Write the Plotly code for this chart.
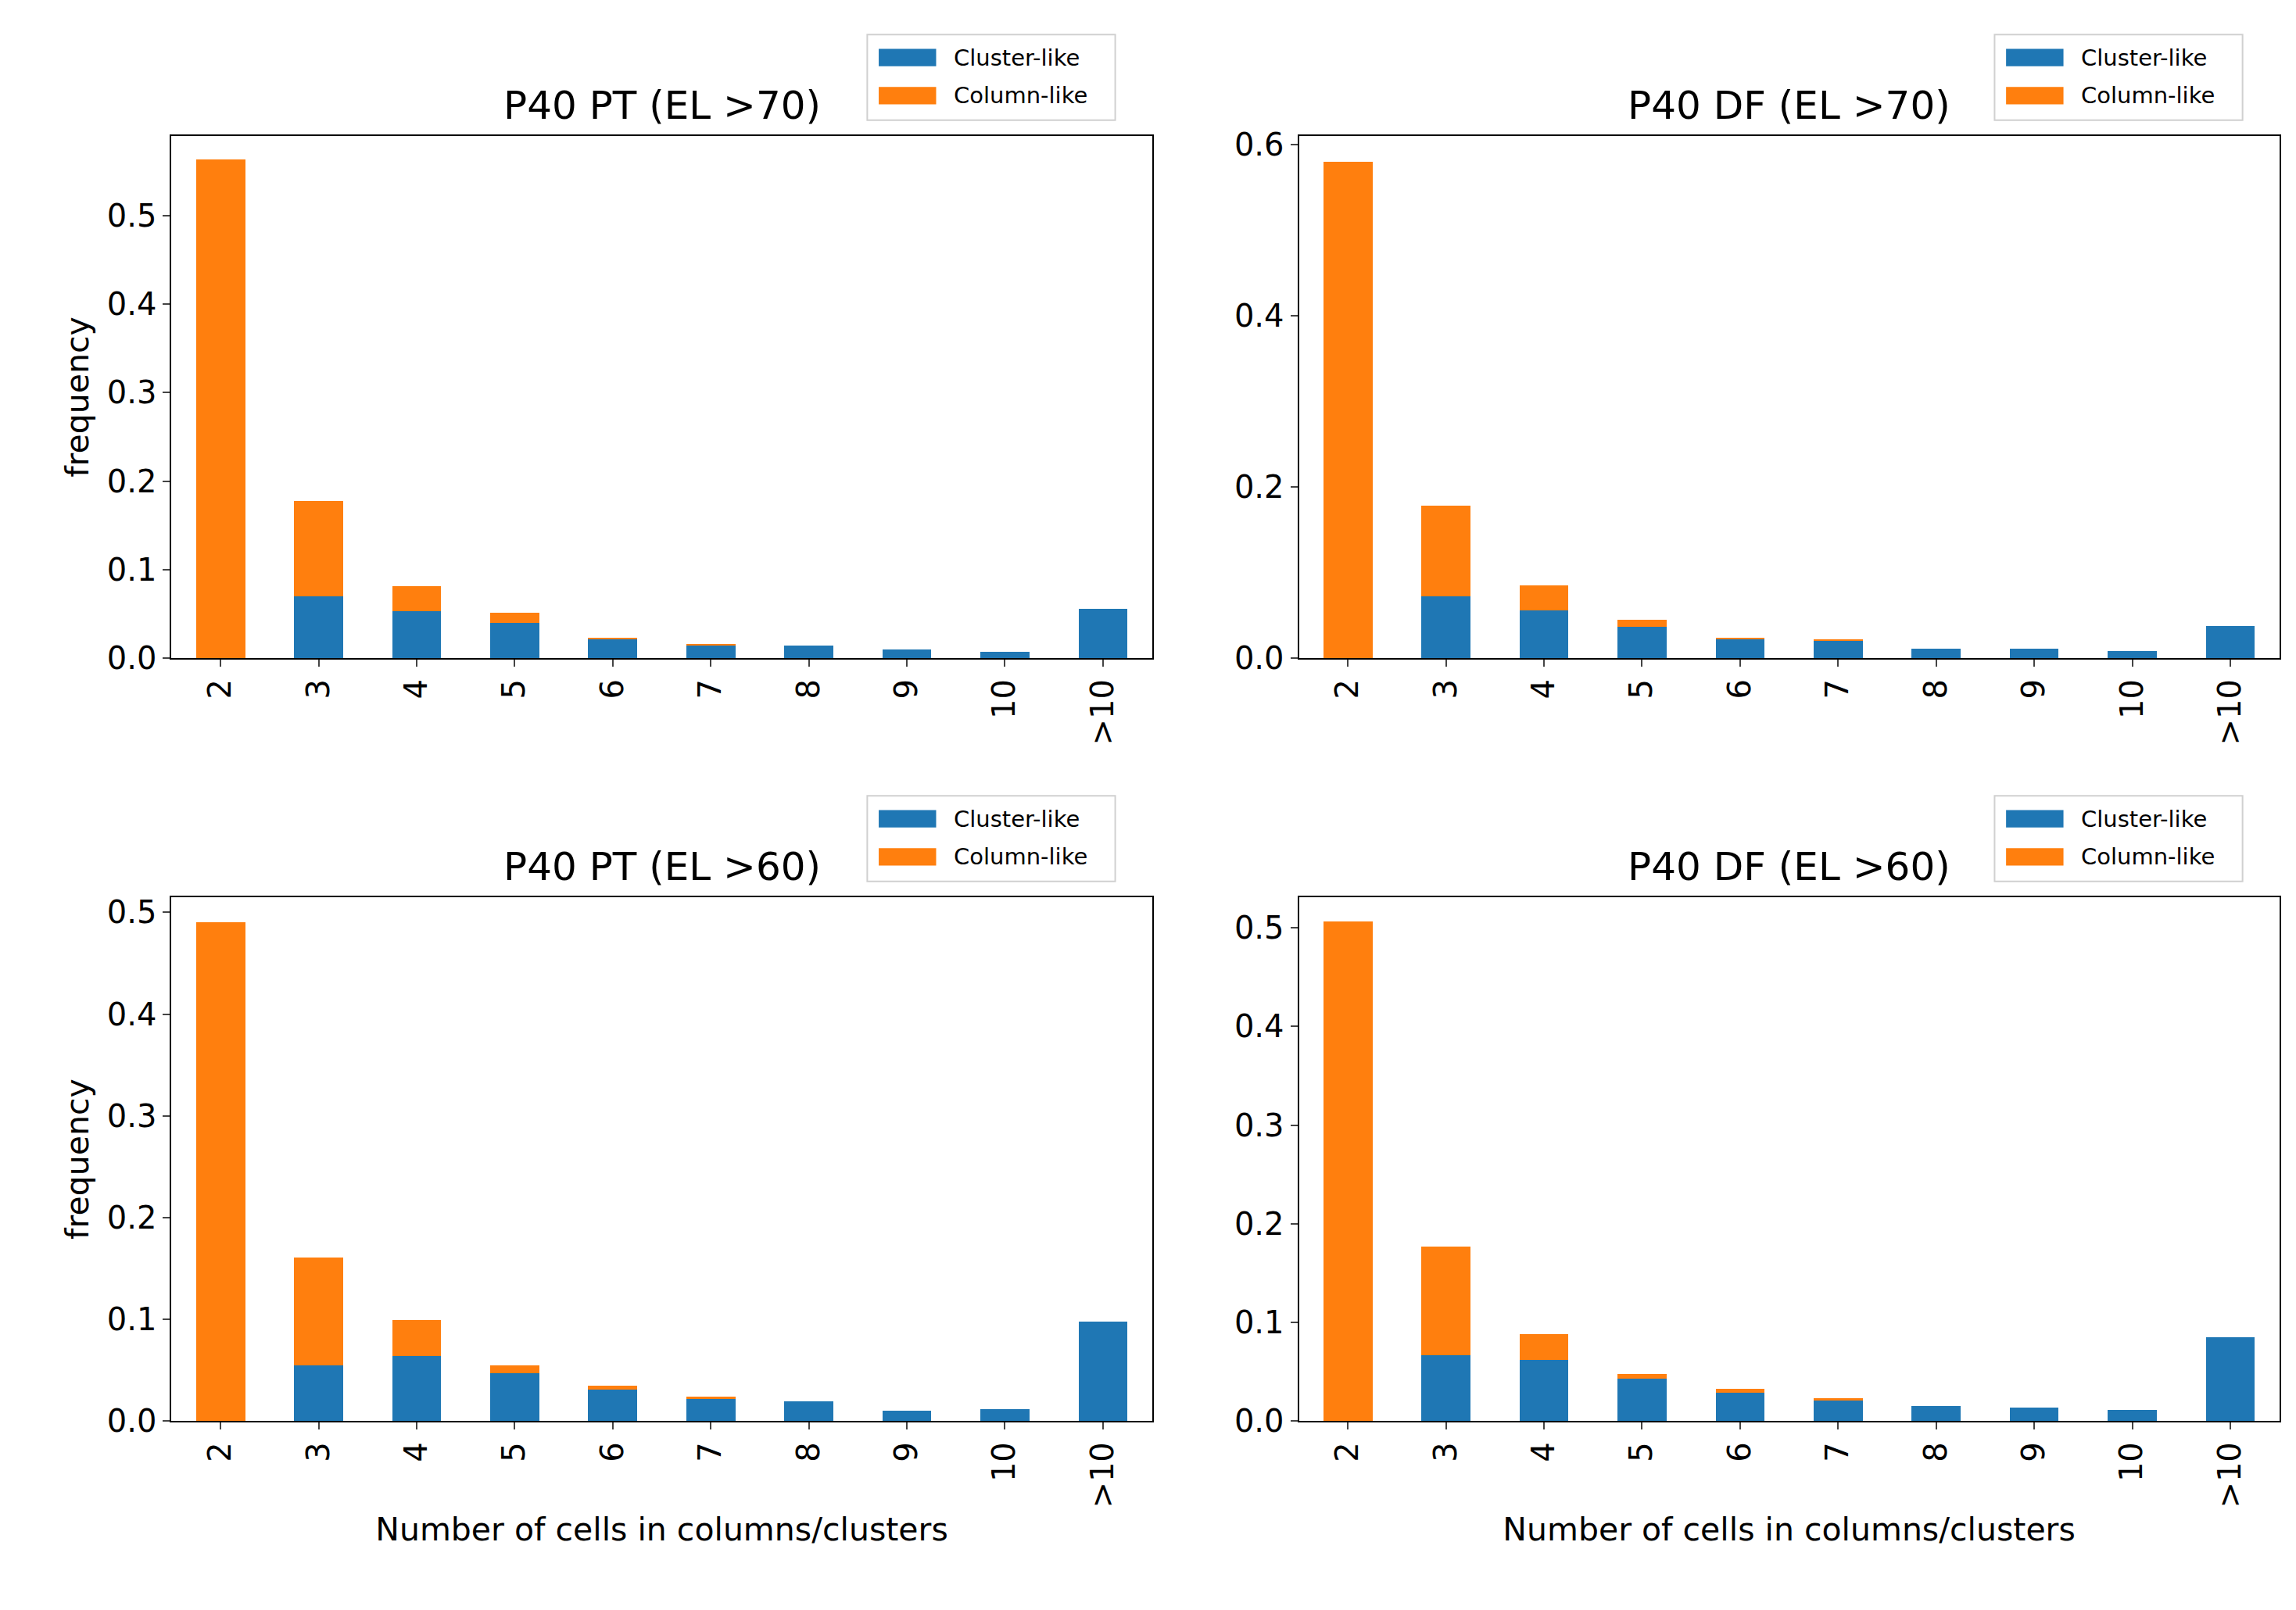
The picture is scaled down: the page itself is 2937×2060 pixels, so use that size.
import plotly.graph_objects as go

categories = ['2', '3', '4', '5', '6', '7', '8', '9', '10', '>10']
titles = ['P40 PT (EL >70)', 'P40 DF (EL >70)', 'P40 PT (EL >60)', 'P40 DF (EL >60)']

# cluster-like part and total height of each stacked bar
pt70_cluster = [0.0, 0.070, 0.053, 0.040, 0.022, 0.014, 0.014, 0.010, 0.007, 0.056]
pt70_total = [0.563, 0.178, 0.081, 0.051, 0.023, 0.016, 0.014, 0.010, 0.007, 0.056]
df70_cluster = [0.0, 0.072, 0.056, 0.037, 0.022, 0.021, 0.011, 0.011, 0.008, 0.038]
df70_total = [0.580, 0.178, 0.085, 0.045, 0.024, 0.022, 0.011, 0.011, 0.008, 0.038]
pt60_cluster = [0.0, 0.055, 0.064, 0.047, 0.031, 0.022, 0.019, 0.010, 0.012, 0.098]
pt60_total = [0.490, 0.161, 0.099, 0.055, 0.035, 0.024, 0.019, 0.010, 0.012, 0.098]
df60_cluster = [0.0, 0.067, 0.062, 0.043, 0.029, 0.021, 0.015, 0.014, 0.011, 0.085]
df60_total = [0.506, 0.177, 0.088, 0.048, 0.033, 0.023, 0.015, 0.014, 0.011, 0.085]

panels = [
    (pt70_cluster, pt70_total, [0, 0.59], [0, 0.1, 0.2, 0.3, 0.4, 0.5]),
    (df70_cluster, df70_total, [0, 0.61], [0, 0.2, 0.4, 0.6]),
    (pt60_cluster, pt60_total, [0, 0.515], [0, 0.1, 0.2, 0.3, 0.4, 0.5]),
    (df60_cluster, df60_total, [0, 0.531], [0, 0.1, 0.2, 0.3, 0.4, 0.5]),
]

BLUE = '#1f77b4'
ORANGE = '#ff7f0e'
FONT = 'DejaVu Sans'

xdoms = [[0.072, 0.499], [0.563, 0.990]]
ydoms = [[0.594, 0.924], [0.112, 0.443]]

fig = go.Figure()
layout = dict(
    width=2937, height=2060, margin=dict(l=0, r=0, t=0, b=0),
    plot_bgcolor='white', paper_bgcolor='white', barmode='stack',
    showlegend=False, font=dict(family=FONT, color='black'),
)
annotations = []
shapes = []

for i, (cluster, total, yr, ticks) in enumerate(panels):
    row, col = divmod(i, 2)
    n = i + 1
    xa = 'x' if n == 1 else 'x%d' % n
    ya = 'y' if n == 1 else 'y%d' % n
    column = [round(t - c, 4) for t, c in zip(total, cluster)]
    fig.add_trace(go.Bar(x=categories, y=cluster, marker_color=BLUE,
                         marker_line_width=0, width=0.5, xaxis=xa, yaxis=ya))
    fig.add_trace(go.Bar(x=categories, y=column, marker_color=ORANGE,
                         marker_line_width=0, width=0.5, xaxis=xa, yaxis=ya))
    axis_style = dict(showline=True, linecolor='black', linewidth=2, mirror=True,
                      ticks='outside', ticklen=9, tickwidth=2, showgrid=False,
                      zeroline=False, tickfont=dict(size=40, family=FONT))
    layout['xaxis' if n == 1 else 'xaxis%d' % n] = dict(
        domain=xdoms[col], anchor=ya, tickangle=-90, range=[-0.5, 9.5],
        title=dict(text='Number of cells in columns/clusters' if row == 1 else '',
                   font=dict(size=41, family=FONT), standoff=14),
        **axis_style)
    layout['yaxis' if n == 1 else 'yaxis%d' % n] = dict(
        domain=ydoms[row], anchor=xa, range=yr, tickvals=ticks,
        ticktext=['%.1f' % t for t in ticks],
        title=dict(text='frequency' if col == 0 else '',
                   font=dict(size=41, family=FONT), standoff=10),
        **axis_style)
    # title
    annotations.append(dict(text=titles[i], xref='paper', yref='paper',
                            x=sum(xdoms[col]) / 2, y=ydoms[row][1] + 0.004,
                            xanchor='center', yanchor='bottom', showarrow=False,
                            font=dict(size=50, family=FONT)))
    # legend box
    lx1 = xdoms[col][1] - 0.016
    lx0 = lx1 - 0.108
    ly1 = ydoms[row][1] + 0.064
    ly0 = ly1 - 0.054
    shapes.append(dict(type='rect', xref='paper', yref='paper', x0=lx0, x1=lx1,
                       y0=ly0, y1=ly1, line=dict(color='#cccccc', width=2),
                       fillcolor='white', opacity=0.9))
    for k, (lab, colr) in enumerate([('Cluster-like', BLUE), ('Column-like', ORANGE)]):
        yc = ly1 - 0.0145 - k * 0.024
        shapes.append(dict(type='rect', xref='paper', yref='paper',
                           x0=lx0 + 0.005, x1=lx0 + 0.030, y0=yc - 0.0055,
                           y1=yc + 0.0055, fillcolor=colr, line_width=0))
        annotations.append(dict(text=lab, xref='paper', yref='paper',
                                x=lx0 + 0.037, y=yc, xanchor='left',
                                yanchor='middle', showarrow=False,
                                font=dict(size=29, family=FONT)))

layout['annotations'] = annotations
layout['shapes'] = shapes
fig.update_layout(**layout)
fig.write_html('out.html')
